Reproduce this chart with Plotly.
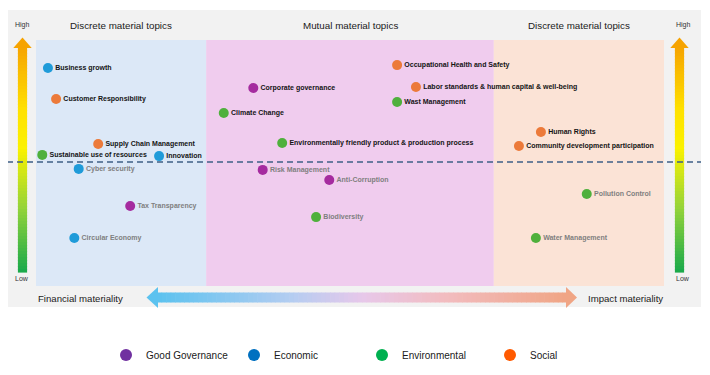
import plotly.graph_objects as go

# page body adds an 8px margin, so the figure is drawn 8px in from the window edge
OFF = 8
W, H = 710 - OFF, 375 - OFF

# ---------------- data ----------------
topics = [
    "Business growth", "Customer Responsibility", "Supply Chain Management",
    "Sustainable use of resources", "Innovation", "Cyber security",
    "Tax Transparency", "Circular Economy", "Corporate governance",
    "Climate Change", "Environmentally friendly product & production process",
    "Risk Management", "Anti-Corruption", "Biodiversity",
    "Occupational Health and Safety", "Labor standards & human capital & well-being",
    "Wast Management", "Human Rights", "Community development participation",
    "Pollution Control", "Water Management",
]
topic_category = [
    "Economic", "Social", "Social",
    "Environmental", "Economic", "Economic",
    "Good Governance", "Economic", "Good Governance",
    "Environmental", "Environmental",
    "Good Governance", "Good Governance", "Environmental",
    "Social", "Social",
    "Environmental", "Social", "Social",
    "Environmental", "Environmental",
]
# position between financial (0) and impact (10) materiality
materiality_axis = [
    0.19, 0.32, 0.99,
    0.10, 1.96, 0.68,
    1.50, 0.61, 3.46,
    2.99, 3.92,
    3.61, 4.67, 4.46,
    5.75, 6.05,
    5.75, 8.04, 7.69,
    8.77, 7.96,
]
# significance, low (0) to high (10)
significance = [
    8.86, 7.60, 5.77,
    5.33, 5.28, 4.76,
    3.25, 1.95, 8.05,
    7.03, 5.81,
    4.72, 4.31, 2.80,
    8.98, 8.09,
    7.48, 6.26, 5.69,
    3.74, 1.95,
]
category_names = ["Good Governance", "Economic", "Environmental", "Social"]
zone_labels = ["Discrete material topics", "Mutual material topics", "Discrete material topics"]
zone_edges = [0, 2.71, 7.29, 10]
threshold = 5.04

# ---------------- styles ----------------
point_colors = {"Good Governance": "#a52b9f", "Economic": "#1f9bd9",
                "Environmental": "#4fb03c", "Social": "#ec7a3a"}
legend_colors = {"Good Governance": "#7030a0", "Economic": "#0070c0",
                 "Environmental": "#00b050", "Social": "#ff5a00"}
zone_fills = ["#dce8f7", "#f0ccee", "#fbe3d6"]
FONT = "Liberation Sans, Arial, Helvetica, sans-serif"

X0_PX, X_PER = 36 - OFF, 62.8
Y0_PX, Y_PER = 286 - OFF, 24.6
x_range = [-X0_PX / X_PER, (W - X0_PX) / X_PER]
y_range = [(Y0_PX - H) / Y_PER, Y0_PX / Y_PER]


def px(x):
    return (x - OFF) / W


def py(y):
    return 1 - (y - OFF) / H


def hex2rgb(h):
    h = h.lstrip("#")
    return tuple(int(h[i:i + 2], 16) for i in (0, 2, 4))


def grad(stops, t):
    for (p0, c0), (p1, c1) in zip(stops, stops[1:]):
        if p0 <= t <= p1:
            f = (t - p0) / (p1 - p0) if p1 > p0 else 0
            a, b = hex2rgb(c0), hex2rgb(c1)
            return "rgb(%d,%d,%d)" % tuple(round(a[i] + (b[i] - a[i]) * f) for i in range(3))
    return stops[-1][1]


shapes = []
# grey panel
shapes.append(dict(type="rect", xref="paper", yref="paper", x0=px(7), x1=px(701),
                   y0=py(307), y1=py(10), fillcolor="#f2f2f2", line_width=0, layer="below"))
# zones
for i in range(3):
    shapes.append(dict(type="rect", xref="x", yref="y", x0=zone_edges[i], x1=zone_edges[i + 1],
                       y0=0, y1=10, fillcolor=zone_fills[i], line_width=0, layer="below"))

# vertical gradient arrows
v_stops = [(0, "#f6a400"), (0.28, "#ffe100"), (0.45, "#fbf200"), (0.72, "#93d33a"), (1, "#18a94b")]
for cx in (22.5, 679.5):
    top, bot = 47.0, 272.0
    n = 75
    step = (bot - top) / n
    for k in range(n):
        y0 = top + k * step
        shapes.append(dict(type="rect", xref="paper", yref="paper",
                           x0=px(cx - 4.6), x1=px(cx + 4.6), y0=py(y0 + step + 0.6), y1=py(y0),
                           fillcolor=grad(v_stops, (k + 0.5) / n), line_width=0, layer="above"))
    shapes.append(dict(type="path", xref="paper", yref="paper",
                       path="M %f %f L %f %f L %f %f Z" % (px(cx), py(37.5), px(cx - 9.2), py(48),
                                                          px(cx + 9.2), py(48)),
                       fillcolor="#f6a300", line_width=0, layer="above"))

# horizontal gradient arrow
h_stops = [(0, "#5cc2ef"), (0.33, "#b5cdf1"), (0.5, "#e7c8ea"), (0.7, "#f2bcc0"), (1, "#f0a585")]
left, right = 157.0, 567.0
n = 90
step = (right - left) / n
for k in range(n):
    x0 = left + k * step
    shapes.append(dict(type="rect", xref="paper", yref="paper",
                       x0=px(x0), x1=px(x0 + step + 0.6), y0=py(302.5), y1=py(292.5),
                       fillcolor=grad(h_stops, (k + 0.5) / n), line_width=0, layer="above"))
shapes.append(dict(type="path", xref="paper", yref="paper",
                   path="M %f %f L %f %f L %f %f Z" % (px(146.5), py(297.5), px(158), py(287),
                                                      px(158), py(308)),
                   fillcolor="#5cc2ef", line_width=0, layer="above"))
shapes.append(dict(type="path", xref="paper", yref="paper",
                   path="M %f %f L %f %f L %f %f Z" % (px(577), py(297.5), px(566), py(287),
                                                      px(566), py(308)),
                   fillcolor="#f0a585", line_width=0, layer="above"))

# threshold dashed line
shapes.append(dict(type="line", xref="paper", yref="y", x0=px(7), x1=px(701),
                   y0=threshold, y1=threshold,
                   line=dict(color="#3e5f86", width=1.4, dash="6px,4px"), layer="above"))

fig = go.Figure()

for cat in category_names:
    idx = [i for i, c in enumerate(topic_category) if c == cat]
    fig.add_trace(go.Scatter(
        x=[materiality_axis[i] for i in idx],
        y=[significance[i] for i in idx],
        text=[topics[i] for i in idx],
        mode="markers+text",
        textposition="middle right",
        marker=dict(size=10, color=point_colors[cat], line=dict(width=0)),
        textfont=dict(family=FONT, size=7, weight="bold",
                      color=["#141414" if significance[i] > threshold else "#7f7f7f" for i in idx]),
        showlegend=False,
        hoverinfo="text",
    ))

for cat in category_names:
    fig.add_trace(go.Scatter(
        x=[None], y=[None], mode="markers", name=cat,
        marker=dict(size=12, color=legend_colors[cat]),
        showlegend=True,
    ))

annotations = []
for i, lab in enumerate(zone_labels):
    annotations.append(dict(x=(zone_edges[i] + zone_edges[i + 1]) / 2, xref="x",
                            y=py(25), yref="paper", text=lab, showarrow=False,
                            font=dict(family=FONT, size=9.8, color="#1a1a1a"),
                            xanchor="center", yanchor="middle"))
for cx in (22, 683):
    annotations.append(dict(x=px(cx), y=py(25), xref="paper", yref="paper", text="High",
                            showarrow=False, font=dict(family=FONT, size=7, color="#333"),
                            xanchor="center", yanchor="middle"))
    annotations.append(dict(x=px(cx), y=py(278.5), xref="paper", yref="paper", text="Low",
                            showarrow=False, font=dict(family=FONT, size=7, color="#333"),
                            xanchor="center", yanchor="middle"))
annotations.append(dict(x=px(80.5), y=py(298), xref="paper", yref="paper",
                        text="Financial materiality", showarrow=False,
                        font=dict(family=FONT, size=9.6, color="#1a1a1a"),
                        xanchor="center", yanchor="middle"))
annotations.append(dict(x=px(625), y=py(298), xref="paper", yref="paper",
                        text="Impact materiality", showarrow=False,
                        font=dict(family=FONT, size=9.6, color="#1a1a1a"),
                        xanchor="center", yanchor="middle"))

fig.update_layout(
    width=W, height=H,
    margin=dict(l=0, r=0, t=0, b=0),
    paper_bgcolor="white", plot_bgcolor="rgba(0,0,0,0)",
    xaxis=dict(range=x_range, visible=False, fixedrange=True),
    yaxis=dict(range=y_range, visible=False, fixedrange=True),
    shapes=shapes,
    annotations=annotations,
    showlegend=True,
    legend=dict(orientation="h", x=px(106), xanchor="left", y=py(355), yanchor="middle",
                entrywidth=83, itemsizing="constant", bgcolor="rgba(0,0,0,0)",
                font=dict(family=FONT, size=10, color="#1a1a1a")),
)

fig.write_html("out.html")
